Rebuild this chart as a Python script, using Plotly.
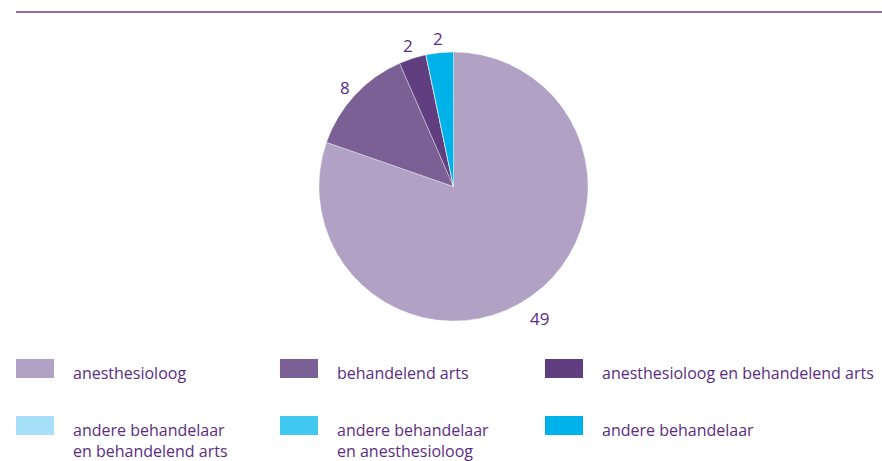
import math
import plotly.graph_objects as go

categories = [
    "anesthesioloog",
    "behandelend arts",
    "anesthesioloog en behandelend arts",
    "andere behandelaar en behandelend arts",
    "andere behandelaar en anesthesioloog",
    "andere behandelaar",
]
legend_labels = [
    "anesthesioloog",
    "behandelend arts",
    "anesthesioloog en behandelend arts",
    "andere behandelaar<br>en behandelend arts",
    "andere behandelaar<br>en anesthesioloog",
    "andere behandelaar",
]
values = [49, 8, 2, 0, 0, 2]
colors = ["#b0a1c5", "#7b6096", "#613e80", "#a8dff8", "#40c8f0", "#00b2ea"]

TEXT_COLOR = "#5b2c83"
FONT = "Open Sans, Noto Sans, sans-serif"
W, H = 882, 461

# pie geometry (pixels)
CX, CY, R = 453.5, 186.5, 134.5

fig = go.Figure()
fig.add_trace(go.Pie(
    labels=categories,
    values=values,
    textinfo="none",
    sort=False,
    direction="clockwise",
    rotation=0,
    marker=dict(colors=colors, line=dict(color="rgba(255,255,255,0.6)", width=0.6)),
    hoverinfo="label+value",
    showlegend=False,
    domain=dict(x=[CX/W - 0.25, CX/W + 0.25], y=[(H-CY-R)/H, (H-CY+R)/H]),
))

annotations = []
# value labels outside each non-zero slice, at the slice's mid angle
total = sum(values)
cum = 0
for v in values:
    if v:
        mid = (cum + v / 2) / total * 2 * math.pi
        rr = R + 14
        px = CX + rr * math.sin(mid)
        py = CY - rr * math.cos(mid) + 6 * (1 - math.cos(mid))
        annotations.append(dict(xref="paper", yref="paper", x=px/W, y=(H-py)/H,
                                text=str(v), showarrow=False,
                                xanchor="center", yanchor="middle",
                                font=dict(color=TEXT_COLOR, size=17, family=FONT)))
    cum += v

shapes = [dict(type="line", xref="paper", yref="paper",
               x0=16/W, x1=1, y0=(H-12)/H, y1=(H-12)/H,
               line=dict(color="#6b3a8f", width=1.5))]
col_x = [16, 280, 545]
row_y = [359, 416]
for i, (lab, col) in enumerate(zip(legend_labels, colors)):
    r, c = divmod(i, 3)
    x0 = col_x[c]
    y0 = row_y[r]
    shapes.append(dict(type="rect", xref="paper", yref="paper",
                       x0=x0/W, x1=(x0+38)/W, y0=(H-y0-19)/H, y1=(H-y0)/H,
                       fillcolor=col, line=dict(width=0)))
    annotations.append(dict(xref="paper", yref="paper", x=(x0+55)/W, y=(H-y0-1)/H,
                            text=lab, showarrow=False, xanchor="left", yanchor="top",
                            align="left",
                            font=dict(color=TEXT_COLOR, size=16, family=FONT)))

fig.update_layout(
    width=W, height=H,
    margin=dict(l=0, r=0, t=0, b=0),
    paper_bgcolor="white", plot_bgcolor="white",
    shapes=shapes, annotations=annotations,
)
fig.write_html("out.html", config={"displayModeBar": False},
               post_script="document.body.style.margin='0';document.body.style.padding='0';")
